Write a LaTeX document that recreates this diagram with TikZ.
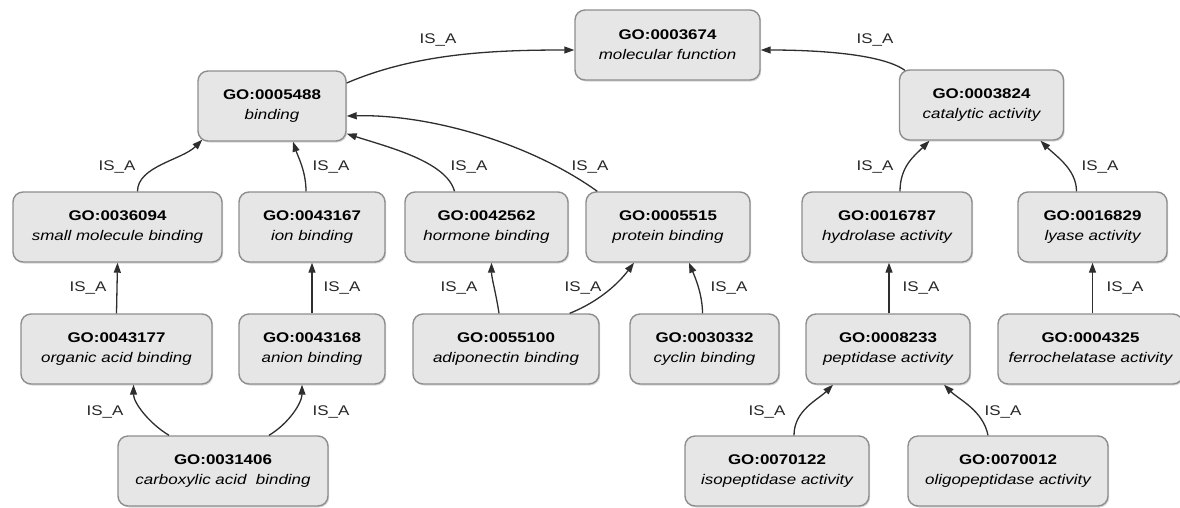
\documentclass[tikz,border=0pt]{standalone}
\usepackage{fontspec}
\setmainfont{Liberation Sans}[FakeStretch=1.21]
\usetikzlibrary{arrows.meta,shadows}
\definecolor{boxfill}{HTML}{E6E6E6}
\definecolor{boxline}{HTML}{8E8E8E}
\definecolor{edgecol}{HTML}{2E2E2E}
\tikzset{
  goterm/.style={draw=boxline, line width=1.4pt, fill=boxfill, rounded corners=10pt,
    minimum height=70pt, inner sep=2pt, align=center,
    font=\fontsize{14}{20}\selectfont,
    drop shadow={shadow xshift=1.2pt, shadow yshift=-1.5pt, opacity=0.3}},
  isa/.style={draw=edgecol, line width=1.3pt, -{Triangle[length=10pt,width=7pt]}},
  lbl/.style={font=\fontsize{14}{16}\selectfont, inner sep=0pt, text=black!85}
}
\newcommand{\goid}[2]{{\bfseries #1}\\{\itshape #2}}
\begin{document}
\begin{tikzpicture}[x=1pt,y=-1pt]
\useasboundingbox (0,0) rectangle (1180,507);
% row 0
\node[goterm, minimum width=185pt] (mf) at (667.5,45) {\goid{GO:0003674}{molecular function}};
% row 1
\node[goterm, minimum width=148pt] (b) at (272,106) {\goid{GO:0005488}{binding}};
\node[goterm, minimum width=164pt] (cat) at (981.5,105) {\goid{GO:0003824}{catalytic activity}};
% row 2
\node[goterm, minimum width=209pt] (sm) at (117.5,227) {\goid{GO:0036094}{small molecule binding}};
\node[goterm, minimum width=146pt] (ion) at (312,227) {\goid{GO:0043167}{ion binding}};
\node[goterm, minimum width=163pt] (hor) at (486.5,227) {\goid{GO:0042562}{hormone binding}};
\node[goterm, minimum width=164pt] (pb) at (668,227) {\goid{GO:0005515}{protein binding}};
\node[goterm, minimum width=170pt] (hyd) at (887,227) {\goid{GO:0016787}{hydrolase activity}};
\node[goterm, minimum width=149pt] (lya) at (1092.5,227) {\goid{GO:0016829}{lyase activity}};
% row 3
\node[goterm, minimum width=191pt] (oa) at (116.5,349) {\goid{GO:0043177}{organic acid binding}};
\node[goterm, minimum width=146pt] (an) at (312,349) {\goid{GO:0043168}{anion binding}};
\node[goterm, minimum width=186pt] (adi) at (506,349) {\goid{GO:0055100}{adiponectin binding}};
\node[goterm, minimum width=149pt] (cyc) at (704.5,349) {\goid{GO:0030332}{cyclin binding}};
\node[goterm, minimum width=164pt] (pep) at (888,349) {\goid{GO:0008233}{peptidase activity}};
\node[goterm, minimum width=185pt] (fer) at (1090.5,349) {\goid{GO:0004325}{ferrochelatase activity}};
% row 4
\node[goterm, minimum width=210pt] (cb) at (223,471) {\goid{GO:0031406}{carboxylic acid\ \ binding}};
\node[goterm, minimum width=184pt] (iso) at (777,471) {\goid{GO:0070122}{isopeptidase activity}};
\node[goterm, minimum width=200pt] (oli) at (1008,471) {\goid{GO:0070012}{oligopeptidase activity}};

% edges
\draw[isa] ([yshift=23pt]b.east) .. controls +(70,-30) and +(-80,0) .. ([yshift=-5pt]mf.west);
\draw[isa] ([xshift=6pt,yshift=-1pt]cat.north west) .. controls +(-25,-18) and +(45,0) .. ([yshift=-5pt]mf.east);
\draw[isa] ([xshift=20pt]sm.north) .. controls +(0,-25) and +(-20,20) .. ([xshift=5pt,yshift=2pt]b.south west);
\draw[isa] ([xshift=-6pt]ion.north) .. controls +(0,-20) and +(5,15) .. ([xshift=21pt]b.south);
\draw[isa] ([xshift=-32pt]hor.north) .. controls +(-8,-30) and +(40,13) .. ([yshift=8pt]b.south east);
\draw[isa] ([xshift=12pt]pb.north west) .. controls +(-70,-50) and +(80,-2) .. ([yshift=-10pt]b.east);
\draw[isa] (oa.north) -- (sm.south);
\draw[isa] (an.north) -- (ion.south);
\draw[isa] ([xshift=-7pt]adi.north) .. controls +(-3,-20) and +(0,15) .. ([xshift=5pt]hor.south);
\draw[isa] ([xshift=-30pt]adi.north east) .. controls +(30,-12) and +(-15,20) .. ([xshift=-34pt]pb.south);
\draw[isa] ([xshift=-2pt]cyc.north) .. controls +(0,-20) and +(5,12) .. ([xshift=21pt]pb.south);
\draw[isa] ([xshift=1pt]pep.north) -- ([xshift=2pt]hyd.south);
\draw[isa] ([xshift=2pt]fer.north) -- ([xshift=0pt]lya.south);
\draw[isa] ([xshift=13pt]hyd.north) .. controls +(0,-25) and +(-15,15) .. ([xshift=-52pt]cat.south);
\draw[isa] ([xshift=-16pt]lya.north) .. controls +(0,-22) and +(15,15) .. ([xshift=59pt]cat.south);
\draw[isa] ([xshift=-54pt]cb.north) .. controls +(-20,-12) and +(0,18) .. ([xshift=17pt]oa.south);
\draw[isa] ([xshift=46pt]cb.north) .. controls +(20,-12) and +(0,18) .. ([xshift=-10pt]an.south);
\draw[isa] ([xshift=17pt]iso.north) .. controls +(0,-25) and +(-15,15) .. ([xshift=-55pt]pep.south);
\draw[isa] ([xshift=-20pt]oli.north) .. controls +(-5,-25) and +(15,15) .. ([xshift=56pt]pep.south);

% labels
\node[lbl] (l1) at (438,40) {IS\_A};
\node[lbl] (l2) at (875,40) {IS\_A};
\node[lbl] (l3) at (117,167) {IS\_A};
\node[lbl] (l4) at (331,167) {IS\_A};
\node[lbl] (l5) at (469,167) {IS\_A};
\node[lbl] (l6) at (590,167) {IS\_A};
\node[lbl] (l7) at (875,167) {IS\_A};
\node[lbl] (l8) at (1100,167) {IS\_A};
\node[lbl] (l9) at (88,288) {IS\_A};
\node[lbl] (l10) at (342,288) {IS\_A};
\node[lbl] (l11) at (459,288) {IS\_A};
\node[lbl] (l12) at (583,288) {IS\_A};
\node[lbl] (l13) at (729,288) {IS\_A};
\node[lbl] (l14) at (921,288) {IS\_A};
\node[lbl] (l15) at (1125,288) {IS\_A};
\node[lbl] (l16) at (105,412) {IS\_A};
\node[lbl] (l17) at (331,412) {IS\_A};
\node[lbl] (l18) at (767,412) {IS\_A};
\node[lbl] (l19) at (1003,412) {IS\_A};
\end{tikzpicture}
\end{document}
